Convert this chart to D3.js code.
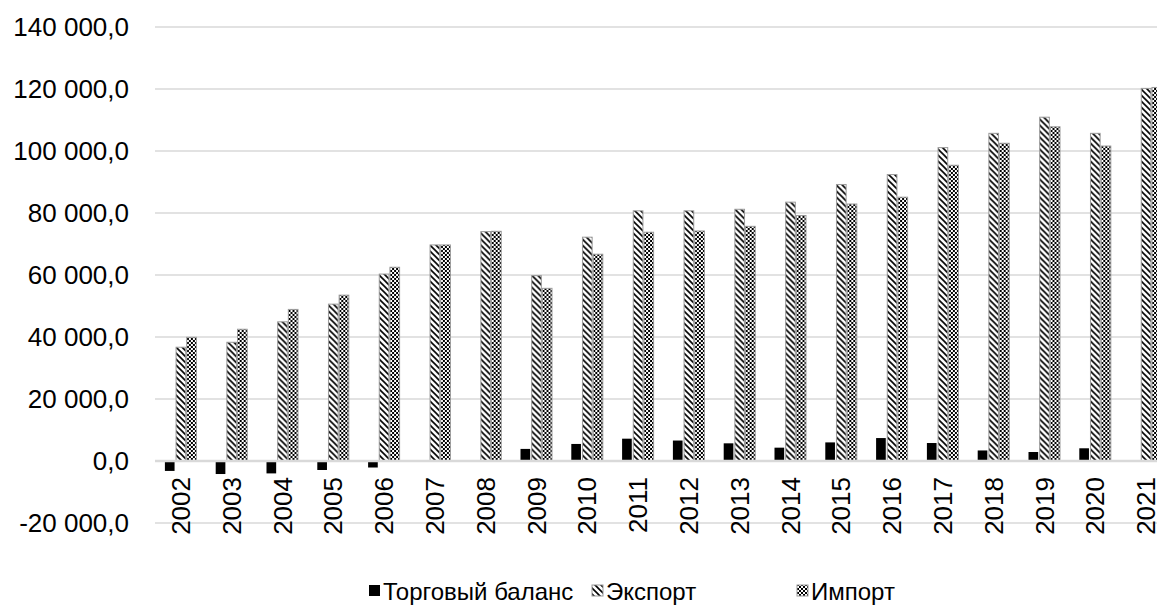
<!DOCTYPE html>
<html><head><meta charset="utf-8">
<script src="https://cdn.jsdelivr.net/npm/d3@7"></script>
<style>html,body{margin:0;padding:0;background:#fff;overflow:hidden}</style>
</head><body>
<svg id="c" width="1157" height="611"></svg>
<script>
const years = ["2002","2003","2004","2005","2006","2007","2008","2009","2010","2011","2012","2013","2014","2015","2016","2017","2018","2019","2020","2021"];
const balance = [-3200,-4200,-4000,-2900,-2100,0,0,3900,5500,7200,6600,5700,4300,6000,7400,5800,3400,2900,4100,0];
const exportV = [36700,38300,44900,50600,60300,69700,74000,59800,72200,80700,80700,81200,83500,89200,92400,101100,105700,110900,105700,120200];
const importV = [39900,42500,48900,53500,62500,69700,74100,55700,66700,73800,74200,75700,79200,82900,85100,95400,102500,107800,101600,120500];
const yTicks = [-20000,0,20000,40000,60000,80000,100000,120000,140000];
const seriesNames = ["Торговый баланс","Экспорт","Импорт"];

const svg = d3.select("#c");
const FONT = "'Liberation Sans', Arial, sans-serif";
const defs = svg.append("defs");
const pe = defs.append("pattern").attr("id","pExp").attr("patternUnits","userSpaceOnUse").attr("width",6).attr("height",6);
pe.append("rect").attr("width",6).attr("height",6).attr("fill","#fff");
pe.append("path").attr("d","M-1,-1L7,7M-1,5L1,7M5,-1L7,1").attr("stroke","#000").attr("stroke-width",1.6);
const pi = defs.append("pattern").attr("id","pImp").attr("patternUnits","userSpaceOnUse").attr("width",4).attr("height",4);
pi.append("rect").attr("width",4).attr("height",4).attr("fill","#fff");
pi.append("rect").attr("width",2).attr("height",2).attr("fill","#000");
pi.append("rect").attr("x",2).attr("y",2).attr("width",2).attr("height",2).attr("fill","#000");

const fills = ["#000","url(#pExp)","url(#pImp)"];
const strokes = ["none","#9a9a9a","#9a9a9a"];

const y = d3.scaleLinear().domain([0,140000]).range([461,27]);
const x0 = d3.scaleBand().domain(years).range([155.5,155.5+20*50.8]).paddingInner(0.37).paddingOuter(0.185);
const x1 = d3.scaleBand().domain([0,1,2]).range([0,x0.bandwidth()]);

const fmt = v => {
  const s = d3.format(",.1f")(v).replace(/,/g," ").replace(".",",");
  return s.replace("−","-");
};

// gridlines
svg.append("g").selectAll("line").data(yTicks.filter(t=>t!==0)).join("line")
  .attr("x1",155).attr("x2",1157).attr("y1",d=>y(d)).attr("y2",d=>y(d))
  .attr("stroke","#d9d9d9").attr("stroke-width",1.5);

// y labels
svg.append("g").selectAll("text").data(yTicks).join("text")
  .attr("x",129).attr("y",d=>y(d)).attr("dy","0.35em").attr("text-anchor","end")
  .attr("font-family",FONT).attr("font-size",26).attr("fill","#000").text(fmt);

// bars
const data = years.map((yr,i)=>({yr, vals:[balance[i],exportV[i],importV[i]]}));
const groups = svg.append("g").selectAll("g").data(data).join("g")
  .attr("transform",d=>`translate(${x0(d.yr)},0)`);
groups.selectAll("rect").data(d=>d.vals.map((v,k)=>({v,k}))).join("rect")
  .attr("x",d=>x1(d.k)+(d.k===0?0:0.5)).attr("width",d=>x1.bandwidth()-(d.k===0?1:1))
  .attr("y",d=>y(Math.max(0,d.v))).attr("height",d=>Math.abs(y(d.v)-y(0)))
  .attr("fill",d=>fills[d.k]).attr("stroke",d=>strokes[d.k]).attr("stroke-width",1)
  .attr("display",d=>d.v===0?"none":null);

// zero axis line
svg.append("line").attr("x1",155).attr("x2",1157).attr("y1",y(0)).attr("y2",y(0))
  .attr("stroke","#d9d9d9").attr("stroke-width",2.5);

// x labels
svg.append("g").selectAll("text").data(years).join("text")
  .attr("transform",d=>`translate(${x0(d)+x0.bandwidth()/2},477) rotate(-90)`)
  .attr("dy","0.35em").attr("text-anchor","end")
  .attr("font-family",FONT).attr("font-size",26).attr("fill","#000").text(d=>d);

// legend
const legX = [369,592,797];
const lg = svg.append("g").selectAll("g").data(seriesNames).join("g")
  .attr("transform",(d,i)=>`translate(${legX[i]},0)`);
lg.append("rect").attr("x",0).attr("y",585).attr("width",11).attr("height",11)
  .attr("fill",(d,i)=>fills[i]).attr("stroke",(d,i)=>strokes[i]);
lg.append("text").attr("x",14).attr("y",600).attr("font-family",FONT).attr("font-size",24)
  .attr("fill","#000").text(d=>d);
</script>
</body></html>
